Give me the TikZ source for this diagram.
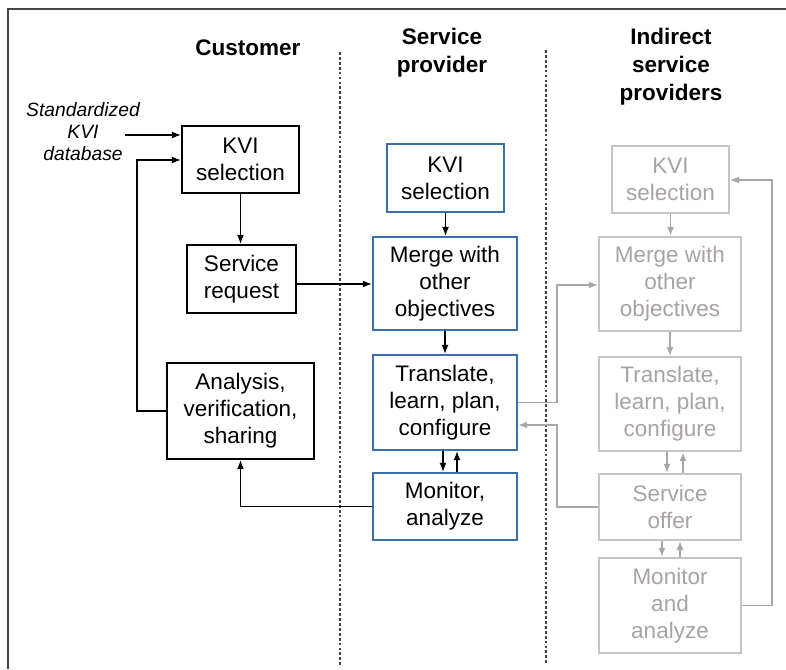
\documentclass[tikz,border=0pt]{standalone}
\usepackage{fontspec}
\setmainfont{Liberation Sans}
\usetikzlibrary{arrows.meta}

\definecolor{provblue}{RGB}{60,110,170}
\definecolor{faint}{RGB}{198,196,196}
\definecolor{fainttext}{RGB}{168,162,162}
\definecolor{framegray}{RGB}{70,70,70}

\tikzset{
  box/.style={draw, line width=1.7pt, align=center, inner sep=0pt,
    font=\fontsize{16}{19.2}\selectfont},
  cbox/.style={box},
  sbox/.style={box, draw=provblue},
  ibox/.style={box, draw=faint, text=fainttext},
  head/.style={align=center, inner sep=0pt, anchor=north,
    font=\fontsize{16}{20}\selectfont\bfseries},
  conn/.style={->, line width=0.85pt},
  iconn/.style={conn, draw=faint!85!black},
  sep/.style={line width=0.8pt, dash pattern=on 2pt off 1.5pt, framegray},
}

\begin{document}
\begin{tikzpicture}[x=0.025cm, y=-0.025cm, >={Latex[length=2.2mm,width=1.7mm]}]
  \useasboundingbox (0,0) rectangle (786,669);
  \draw[framegray, line width=1pt] (786,9) -- (8,9) -- (8,669);
  \draw[sep] (340,52) -- (340,665);
  \draw[sep] (546,50) -- (546,665);

  \node[head] (hCust) at (248,40) {Customer};
  \node[head] (hProv) at (442,28) {Service\\provider};
  \node[head] (hInd) at (671,28) {Indirect\\service\\providers};
  \node[align=center, inner sep=0pt, anchor=north, font=\fontsize{13.7}{15.8}\selectfont\itshape]
    (db) at (83,102) {Standardized\\KVI\\database};

  \node[cbox, minimum width=2.925cm, minimum height=1.675cm] (cKVI) at (240.5,159.5) {KVI\\selection};
  \node[cbox, minimum width=2.725cm, minimum height=1.7cm] (cReq) at (241.5,279) {Service\\request};
  \node[cbox, minimum width=3.675cm, minimum height=2.4cm] (cAna) at (240.5,411) {Analysis,\\verification,\\sharing};

  \node[sbox, minimum width=2.925cm, minimum height=1.7cm] (sKVI) at (445.5,178) {KVI\\selection};
  \node[sbox, minimum width=3.6cm, minimum height=2.325cm] (sMerge) at (445,283.5) {Merge with\\other\\objectives};
  \node[sbox, minimum width=3.6cm, minimum height=2.375cm] (sTrans) at (445,402.5) {Translate,\\learn, plan,\\configure};
  \node[sbox, minimum width=3.6cm, minimum height=1.675cm] (sMon) at (445,506.5) {Monitor,\\analyze};

  \node[ibox, minimum width=2.925cm, minimum height=1.675cm] (iKVI) at (670.5,179.5) {KVI\\selection};
  \node[ibox, minimum width=3.55cm, minimum height=2.35cm] (iMerge) at (670,284) {Merge with\\other\\objectives};
  \node[ibox, minimum width=3.55cm, minimum height=2.35cm] (iTrans) at (670,404) {Translate,\\learn, plan,\\configure};
  \node[ibox, minimum width=3.55cm, minimum height=1.65cm] (iOffer) at (670,507) {Service\\offer};
  \node[ibox, minimum width=3.55cm, minimum height=2.375cm] (iMon) at (670,605.5) {Monitor\\and\\analyze};

  \coordinate (dbOut) at (125,135);
  \coordinate (fb) at (137,160);
  \coordinate (j1) at (557,285);
  \coordinate (j2) at (557,425);
  \coordinate (j3) at (772,180);

  \draw[conn] (dbOut) -- (dbOut -| cKVI.west);
  \draw[conn] (cAna.west) -| (fb) -- (fb -| cKVI.west);
  \draw[conn] (cKVI.south) -- (cKVI.south |- cReq.north);
  \draw[conn] ([yshift=-0.125cm]cReq.east) -- ([yshift=-0.125cm]cReq.east -| sMerge.west);
  \draw[conn] (sMon.west) -| (cAna.south);

  \draw[conn] (sKVI.south) -- (sKVI.south |- sMerge.north);
  \draw[conn] (sMerge.south) -- (sTrans.north);
  \draw[conn] ([xshift=-0.05cm]sTrans.south) -- ([xshift=-0.05cm]sMon.north);
  \draw[conn] ([xshift=0.3cm]sMon.north) -- ([xshift=0.3cm]sTrans.south);

  \draw[iconn] (iKVI.south) -- (iKVI.south |- iMerge.north);
  \draw[iconn] (iMerge.south) -- (iTrans.north);
  \draw[iconn] ([xshift=-0.075cm]iTrans.south) -- ([xshift=-0.075cm]iOffer.north);
  \draw[iconn] ([xshift=0.325cm]iOffer.north) -- ([xshift=0.325cm]iTrans.south);
  \draw[iconn] ([xshift=-0.2cm]iOffer.south) -- ([xshift=-0.2cm]iMon.north);
  \draw[iconn] ([xshift=0.25cm]iMon.north) -- ([xshift=0.25cm]iOffer.south);

  \draw[iconn] (sTrans.east) -| (j1) -- (j1 -| iMerge.west);
  \draw[iconn] (iOffer.west) -| (j2) -- (j2 -| sTrans.east);
  \draw[iconn] (iMon.east) -| (j3) -- (j3 -| iKVI.east);
\end{tikzpicture}
\end{document}
